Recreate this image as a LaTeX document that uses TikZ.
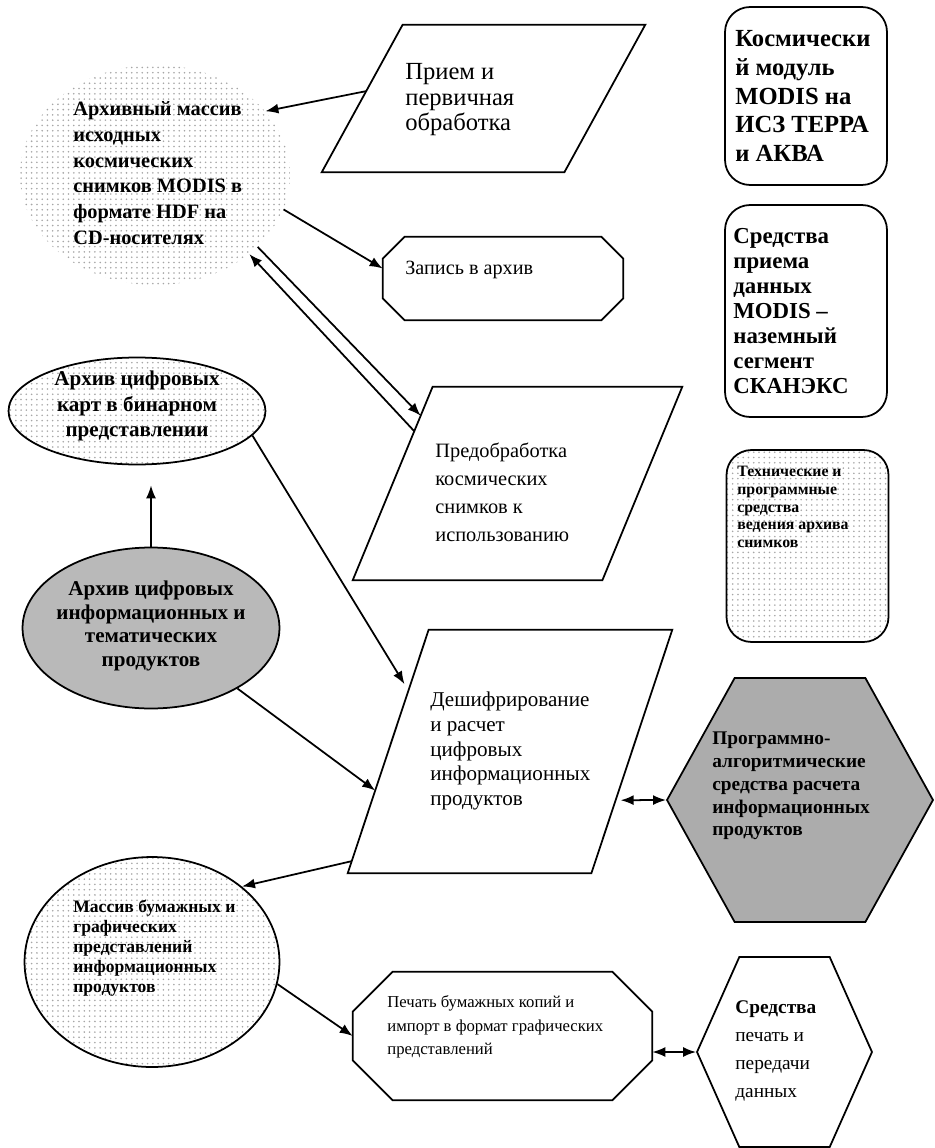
\documentclass[tikz,border=0pt]{standalone}
\usepackage{fontspec}
\setmainfont{Liberation Serif}
\usetikzlibrary{shapes.geometric,shapes.symbols,patterns,calc,arrows.meta}

\tikzset{
  box/.style={draw, line width=1pt},
  frame/.style={inner sep=0pt},
  hexa/.style={box, signal, signal to=west and east, inner sep=0pt},
  rbox/.style={box, rounded corners=5mm, inner sep=0pt, minimum width=32.4mm},
  oval/.style={ellipse, inner sep=0pt},
  txt/.style={align=left, inner sep=0pt, anchor=west},
  arr/.style={-{Latex[length=2.6mm,width=2mm]}, line width=1pt},
  dblarr/.style={{Latex[length=2.6mm,width=2mm]}-{Latex[length=2.6mm,width=2mm]}, line width=1pt},
  sparse/.style={pattern=dots, pattern color=gray!70},
  dense/.style={fill=gray!55},
}

\begin{document}
\begin{tikzpicture}[x=0.02cm,y=-0.02cm]
        % Background
        \draw[draw=none,fill=white] (0,0) rectangle (935,1148);
        \useasboundingbox (0,0) rectangle (935,1148);

        % Frames of the slanted and cut shapes
        \node[frame, minimum width=64.6mm, minimum height=29.4mm] (prm) at (483.5,98.5) {};
        \node[frame, minimum width=65.8mm, minimum height=38.6mm] (pre) at (517.5,483.5) {};
        \node[frame, minimum width=64.8mm, minimum height=48.6mm] (dec) at (510,751.5) {};
        \node[frame, minimum width=48mm, minimum height=16.6mm] (wr) at (503,278.5) {};
        \node[frame, minimum width=59.8mm, minimum height=25.6mm] (prn) at (502.5,1036) {};

        % Parallelograms
        \foreach \n/\s in {prm/16.2mm, pre/16mm, dec/16.2mm} {
            \draw[box] ([xshift=\s]\n.north west) -- (\n.north east) -- ([xshift=-\s]\n.south east) -- (\n.south west) -- cycle;
        }

        % Octagons
        \foreach \n/\c in {wr/4.4mm, prn/8mm} {
            \draw[box] ([xshift=\c]\n.north west) -- ([xshift=-\c]\n.north east) -- ([yshift=-\c]\n.north east)
                -- ([yshift=\c]\n.south east) -- ([xshift=-\c]\n.south east) -- ([xshift=\c]\n.south west)
                -- ([yshift=\c]\n.south west) -- ([yshift=-\c]\n.north west) -- cycle;
        }

        % Other shapes
        \node[oval, sparse, minimum width=54mm, minimum height=44mm] (arch) at (155,175) {};
        \node[oval, box, sparse, minimum width=51.4mm, minimum height=21.4mm] (map) at (137,411) {};
        \node[oval, box, dense, minimum width=51.4mm, minimum height=32.2mm] (prod) at (151,628) {};
        \node[oval, box, sparse, minimum width=51mm, minimum height=42mm] (mas) at (152,962) {};
        \node[hexa, dense, fill=gray!65, signal pointer angle=122, minimum width=53.2mm, minimum height=48.8mm] (prog) at (800,800) {};
        \node[hexa, signal pointer angle=132, minimum width=35mm, minimum height=38mm] (out) at (784.5,1052) {};
        \node[rbox, minimum height=35.6mm] (mod) at (806,96) {};
        \node[rbox, minimum height=42.4mm] (rec) at (806,311) {};
        \node[rbox, sparse, minimum height=38.4mm] (tech) at (807.5,546) {};

        % Labels
        \node[txt, font=\fontsize{14}{14.5}\selectfont] (prm-t) at (405,100) {Прием и\\первичная\\обработка};
        \node[txt, font=\fontsize{11.6}{14.7}\selectfont\bfseries] (arch-t) at (73,173) {Архивный массив\\исходных\\космических\\снимков MODIS в\\формате HDF на\\CD-носителях};
        \node[txt, font=\fontsize{11.5}{14}\selectfont] (wr-t) at (405,270) {Запись в архив};
        \node[txt, font=\fontsize{11.6}{16}\selectfont] (pre-t) at (435,492) {Предобработка\\космических\\снимков к\\использованию};
        \node[align=center, inner sep=0pt, font=\fontsize{12}{14.7}\selectfont\bfseries] (map-t) at (137,406) {Архив цифровых\\карт в бинарном\\представлении};
        \node[align=center, inner sep=0pt, font=\fontsize{12}{13.6}\selectfont\bfseries] (prod-t) at (151,626) {Архив цифровых\\информационных и\\тематических\\продуктов};
        \node[txt, font=\fontsize{12}{14.2}\selectfont] (dec-t) at (430,751) {Дешифрирование\\и расчет\\цифровых\\информационных\\продуктов};
        \node[txt, font=\fontsize{11}{13}\selectfont\bfseries] (prog-t) at (712,786) {Программно-\\алгоритмические\\средства расчета\\информационных\\продуктов};
        \node[txt, font=\fontsize{14}{16.4}\selectfont\bfseries] (mod-t) at (735,96) {Космически\\й модуль\\MODIS на\\ИСЗ ТЕРРА\\и АКВА};
        \node[txt, font=\fontsize{13}{14.2}\selectfont\bfseries] (rec-t) at (733,311) {Средства\\приема\\данных\\MODIS –\\наземный\\сегмент\\СКАНЭКС};
        \node[txt, font=\fontsize{9}{10}\selectfont\bfseries] (tech-t) at (737,507) {Технические и\\программные\\средства\\ведения архива\\снимков};
        \node[txt, font=\fontsize{10}{11.3}\selectfont\bfseries] (mas-t) at (73,948) {Массив бумажных и\\графических\\представлений\\информационных\\продуктов};
        \node[txt, font=\fontsize{9.5}{13.5}\selectfont] (prn-t) at (387,1027) {Печать бумажных копий и\\импорт в формат графических\\представлений};
        \node[txt, font=\fontsize{11}{16}\selectfont] (out-t) at (735,1051) {\textbf{Средства}\\печать и\\передачи\\данных};

        % Connectors
        \draw[arr] ($([xshift=16.2mm]prm.north west)!0.45!(prm.south west)$) -- (arch.30);
        \draw[arr] (arch.-15) -- ([yshift=2mm]wr.west);
        \draw[arr] ($([xshift=16mm]pre.north west)!0.23!(pre.south west)$) -- (arch.-40);
        \draw[arr] (arch.-35) -- ($([xshift=16mm]pre.north west)!0.15!(pre.south west)$);
        \draw[arr, shorten >=1.5mm] (map.-12) -- ($([xshift=16.2mm]dec.north west)!0.25!(dec.south west)$);
        \draw[arr, shorten >=4mm] (prod.north) -- (prod.north |- map.south);
        \draw[arr] (prod.-35) -- ($([xshift=16.2mm]dec.north west)!0.66!(dec.south west)$);
        \draw[dblarr, shorten <=1mm] ($(dec.north east)!0.7!([xshift=-16.2mm]dec.south east)$) -- (prog.west);
        \draw[arr] ($([xshift=16.2mm]dec.north west)!0.95!(dec.south west)$) -- (mas.40);
        \draw[arr] (mas.-10) -- (prn.west);
        \draw[dblarr] (out.west -| prn.east) -- (out.west);

    \end{tikzpicture}
\end{document}
